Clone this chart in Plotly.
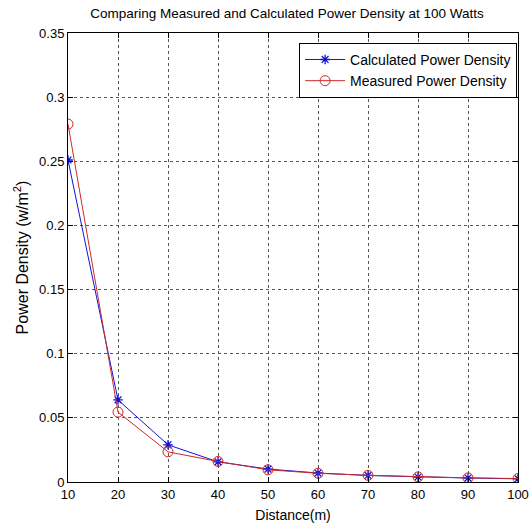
import plotly.graph_objects as go

distance = [10, 20, 30, 40, 50, 60, 70, 80, 90, 100]
calculated = [0.251, 0.064, 0.029, 0.0157, 0.0101, 0.0070, 0.0051, 0.0039, 0.0031, 0.0025]
measured = [0.279, 0.0545, 0.0235, 0.0160, 0.0095, 0.0068, 0.0052, 0.0040, 0.0032, 0.0027]
x_ticks = [10, 20, 30, 40, 50, 60, 70, 80, 90, 100]
y_ticks = [0, 0.05, 0.1, 0.15, 0.2, 0.25, 0.3, 0.35]
y_tick_text = ["0", "0.05", "0.1", "0.15", "0.2", "0.25", "0.3", "0.35"]

FONT = "Liberation Sans, Arial, Helvetica, sans-serif"

fig = go.Figure()
fig.add_trace(go.Scatter(
    x=distance, y=calculated, mode="lines+markers", name="Calculated Power Density",
    line=dict(color="#1212d8", width=1),
    marker=dict(symbol="asterisk", size=8, color="#1212d8", line=dict(color="#1212d8", width=1.3)),
))
fig.add_trace(go.Scatter(
    x=distance, y=measured, mode="lines+markers", name="Measured Power Density",
    line=dict(color="#cc2a2a", width=1),
    marker=dict(symbol="circle-open", size=10, color="#cc2a2a", line=dict(color="#cc2a2a", width=1)),
))

axis_common = dict(
    showline=True, linecolor="black", linewidth=1, mirror="ticks",
    ticks="inside", ticklen=5, tickcolor="black",
    showgrid=True, gridcolor="#555555", griddash="dot", gridwidth=1,
    zeroline=False, automargin=False, ticklabeloverflow="allow",
    tickfont=dict(family=FONT, size=13, color="black"),
)

fig.update_xaxes(
    range=[10, 100], tickvals=x_ticks,
    title=dict(text="Distance(m)", font=dict(family=FONT, size=14, color="black"), standoff=9),
    **axis_common,
)
fig.update_yaxes(
    range=[0, 0.35], tickvals=y_ticks, ticktext=y_tick_text,
    title=dict(text="Power Density (w/m<sup>2</sup>)", font=dict(family=FONT, size=16, color="black"), standoff=6),
    **axis_common,
)

fig.update_layout(
    width=529, height=531,
    margin=dict(l=68, r=11, t=33, b=49, autoexpand=False),
    paper_bgcolor="white", plot_bgcolor="white",
    title=dict(text="Comparing Measured and Calculated Power Density at 100 Watts",
               x=0.5425, xanchor="center", y=0.9755, yanchor="middle",
               font=dict(family=FONT, size=13.5, color="black")),
    legend=dict(x=0.998, y=0.978, xanchor="right", yanchor="top",
                bgcolor="white", bordercolor="black", borderwidth=1,
                font=dict(family=FONT, size=14, color="black"),
                itemwidth=40, tracegroupgap=0),
    showlegend=True,
    hovermode=False,
)

fig.write_html("out.html", config={"displayModeBar": False},
               post_script="document.body.style.margin='0px';")
